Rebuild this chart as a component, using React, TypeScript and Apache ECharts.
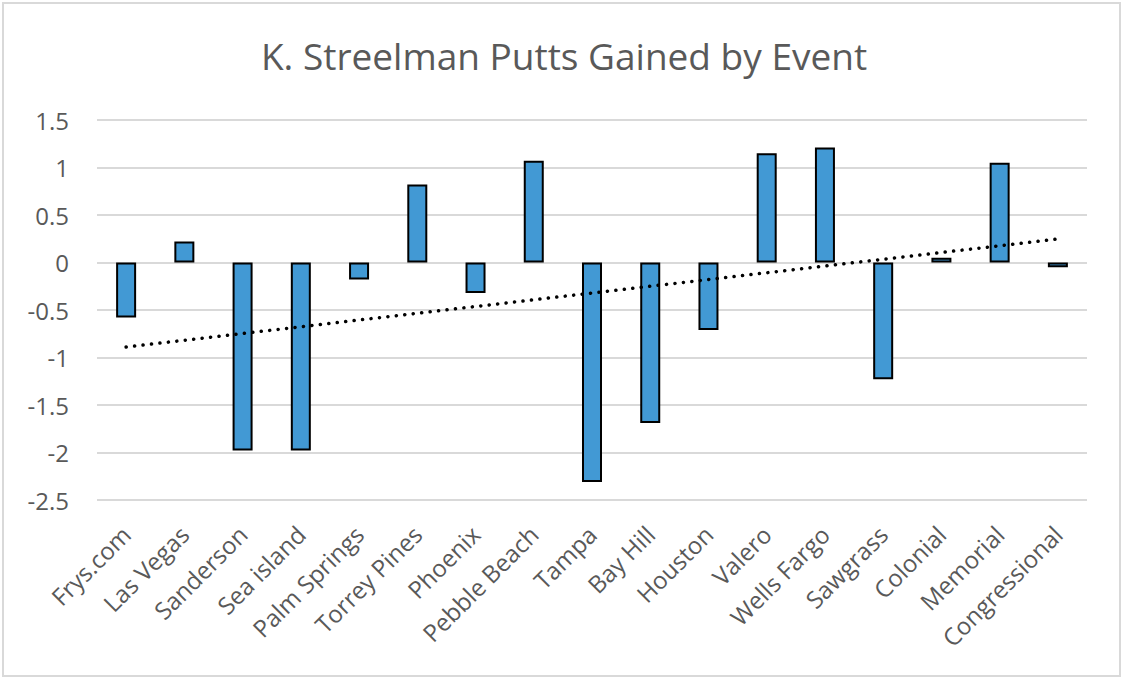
import React, { useEffect, useRef } from "react";
import * as echarts from "echarts";

const events = [
  "Frys.com", "Las Vegas", "Sanderson", "Sea island", "Palm Springs", "Torrey Pines",
  "Phoenix", "Pebble Beach", "Tampa", "Bay Hill", "Houston", "Valero",
  "Wells Fargo", "Sawgrass", "Colonial", "Memorial", "Congressional",
];

const puttsGained = [
  -0.58, 0.22, -1.98, -1.98, -0.18, 0.82,
  -0.32, 1.07, -2.31, -1.69, -0.71, 1.15,
  1.21, -1.23, 0.05, 1.05, -0.05,
];

const yTicks = { min: -2.5, max: 1.5, interval: 0.5 };

// Least-squares linear trend across the event index
function linearTrend(values: number[]): number[] {
  const n = values.length;
  const xs = values.map((_, i) => i + 1);
  const mx = xs.reduce((a, b) => a + b, 0) / n;
  const my = values.reduce((a, b) => a + b, 0) / n;
  let sxy = 0;
  let sxx = 0;
  xs.forEach((x, i) => {
    sxy += (x - mx) * (values[i] - my);
    sxx += (x - mx) * (x - mx);
  });
  const slope = sxy / sxx;
  return xs.map((x) => my + slope * (x - mx));
}

export default function App() {
  const ref = useRef<HTMLDivElement>(null);

  useEffect(() => {
    if (!ref.current) return;
    const chart = echarts.init(ref.current, undefined, { renderer: "svg" });
    const font = "'Open Sans', 'Noto Sans', sans-serif";
    const trend = linearTrend(puttsGained);

    chart.setOption({
      animation: false,
      backgroundColor: "#ffffff",
      textStyle: { fontFamily: font },
      title: {
        text: "K. Streelman Putts Gained by Event",
        left: "center",
        top: 32,
        textStyle: { fontFamily: font, fontSize: 37, fontWeight: "normal", color: "#595959" },
      },
      graphic: [
        {
          type: "rect",
          shape: { x: 3, y: 3, width: 1117, height: 673 },
          style: { fill: "none", stroke: "#d9d9d9", lineWidth: 2 },
          silent: true,
        },
      ],
      grid: { left: 97, right: 41, top: 120, bottom: 181 },
      xAxis: {
        type: "category",
        data: events,
        boundaryGap: true,
        axisLine: { show: false },
        axisTick: { show: false },
        axisLabel: {
          rotate: 45,
          interval: 0,
          margin: 30,
          fontSize: 24,
          color: "#595959",
          fontFamily: font,
        },
      },
      yAxis: {
        type: "value",
        min: yTicks.min,
        max: yTicks.max,
        interval: yTicks.interval,
        axisLine: { show: false },
        axisTick: { show: false },
        axisLabel: { fontSize: 24, color: "#595959", margin: 28, fontFamily: font },
        splitLine: { lineStyle: { color: "#d9d9d9", width: 2 } },
      },
      series: [
        {
          type: "bar",
          data: puttsGained,
          barWidth: 20,
          itemStyle: { color: "#4299d4", borderColor: "#000000", borderWidth: 2 },
        },
        {
          type: "line",
          data: trend,
          symbol: "none",
          lineStyle: { color: "#000000", width: 3.5, type: [0.1, 8.4], cap: "round" },
          z: 5,
        },
      ],
    });

    return () => chart.dispose();
  }, []);

  return (
    <div
      ref={ref}
      style={{ position: "fixed", left: 0, top: 0, width: 1128, height: 681 }}
    />
  );
}
